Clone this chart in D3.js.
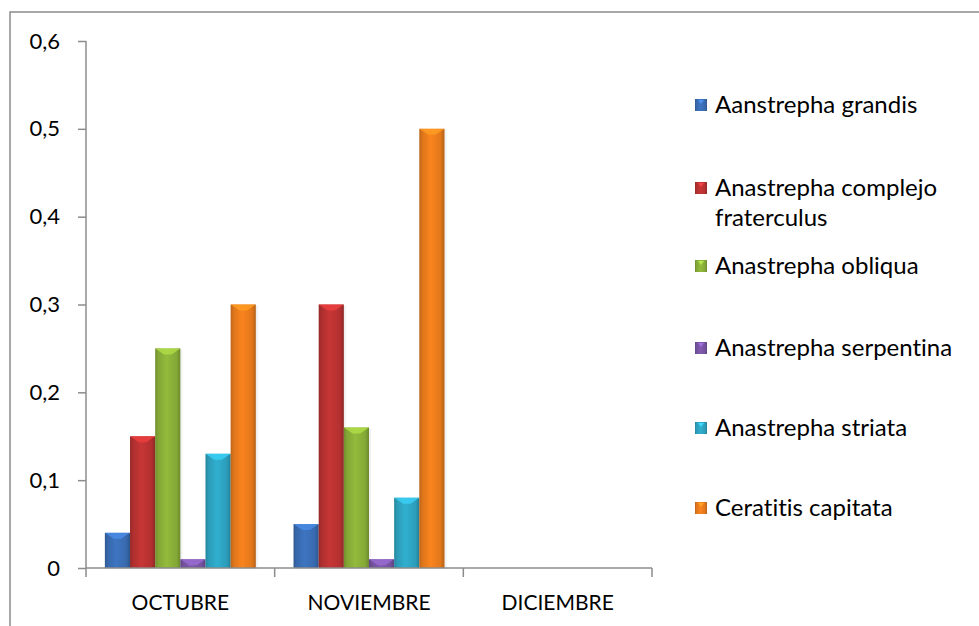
<!doctype html>
<html lang="es">
<head>
<meta charset="utf-8" />
<title>chart</title>
<script src="https://d3js.org/d3.v7.min.js"></script>
<style>
  body { margin: 0; background: #fff; }
  text { font-family: Lato, "Open Sans", sans-serif; fill: #000; font-variant-ligatures: none; }
</style>
</head>
<body>
<div id="svg_div"></div>
<script>
// data
var months = ["OCTUBRE", "NOVIEMBRE", "DICIEMBRE"];
var species = ["Aanstrepha grandis", "Anastrepha complejo fraterculus", "Anastrepha obliqua",
               "Anastrepha serpentina", "Anastrepha striata", "Ceratitis capitata"];
var grandis     = [0.04, 0.05, 0];
var fraterculus = [0.15, 0.30, 0];
var obliqua     = [0.25, 0.16, 0];
var serpentina  = [0.01, 0.01, 0];
var striata     = [0.13, 0.08, 0];
var capitata    = [0.30, 0.50, 0];
var yTicks = [0, 0.1, 0.2, 0.3, 0.4, 0.5, 0.6];

var series = [grandis, fraterculus, obliqua, serpentina, striata, capitata];
var colours = ["#3a6db4", "#b93232", "#89ae38", "#7855a4", "#2ea3c1", "#e97b1c"];

var width = 979, height = 626;
var plotLeft = 86, plotRight = 652, plotTop = 41, plotBottom = 568;

var svg = d3.select("#svg_div").append("svg")
  .attr("width", width)
  .attr("height", height);

var defs = svg.append("defs");
// horizontal gradient per colour to get the shaded column look
colours.forEach(function(c, i) {
  var g = defs.append("linearGradient").attr("id", "grad" + i)
    .attr("x1", 0).attr("x2", 1).attr("y1", 0).attr("y2", 0);
  var base = d3.color(c);
  g.append("stop").attr("offset", "0%").attr("stop-color", base.darker(0.6));
  g.append("stop").attr("offset", "12%").attr("stop-color", base.darker(0.15));
  g.append("stop").attr("offset", "45%").attr("stop-color", base.brighter(0.2));
  g.append("stop").attr("offset", "85%").attr("stop-color", base.darker(0.1));
  g.append("stop").attr("offset", "100%").attr("stop-color", base.darker(0.7));
});

// outer frame
svg.append("rect")
  .attr("x", 10).attr("y", 12)
  .attr("width", 990).attr("height", 640)
  .attr("fill", "none")
  .attr("stroke", "#8c8c8c")
  .attr("stroke-width", 1.5);

var yScale = d3.scaleLinear().domain([0, 0.6]).range([plotBottom, plotTop]);
var xScale = d3.scaleBand().domain(months).range([plotLeft, plotRight]).paddingInner(0).paddingOuter(0);
// gap width 150% => inner band holds 6 bars, padding 0.75 bar each side
var bw = xScale.bandwidth() / 7.5;
var xInner = d3.scaleBand().domain(d3.range(species.length))
  .range([bw * 0.75, xScale.bandwidth() - bw * 0.75]);

// bars
var groups = svg.selectAll("g.month")
  .data(months)
  .enter().append("g")
  .attr("class", "month")
  .attr("transform", function(d) { return "translate(" + xScale(d) + ",0)"; });

groups.each(function(m, mi) {
  var g = d3.select(this);
  series.forEach(function(s, si) {
    var v = s[mi];
    if (v <= 0) return;
    var x = xInner(si), w = xInner.bandwidth();
    var y = yScale(v), h = yScale(0) - yScale(v);
    // faint shadow
    g.append("rect")
      .attr("x", x + 1).attr("y", y + 1)
      .attr("width", w + 1).attr("height", h)
      .attr("fill", "#000").attr("opacity", 0.06);
    g.append("rect")
      .attr("x", x).attr("y", y)
      .attr("width", w).attr("height", h)
      .attr("fill", "url(#grad" + si + ")");
    // small bevel highlight at the top
    var bh = Math.min(6, h);
    g.append("path")
      .attr("d", "M" + x + "," + y + " L" + (x + w) + "," + y +
                 " L" + (x + w * 0.65) + "," + (y + bh) + " L" + (x + w * 0.35) + "," + (y + bh) + "Z")
      .attr("fill", d3.color(colours[si]).brighter(0.7))
      .attr("opacity", 0.8);
  });
});

// y axis
var yAxis = d3.axisLeft(yScale)
  .tickValues(yTicks)
  .tickSize(8)
  .tickPadding(18)
  .tickFormat(function(d) { return d === 0 ? "0" : d3.format(".1f")(d).replace(".", ","); });

var ya = svg.append("g")
  .attr("transform", "translate(" + plotLeft + ",0)")
  .call(yAxis);
ya.select(".domain").attr("stroke", "#8c8c8c").attr("stroke-width", 1.5)
  .attr("d", "M0," + plotTop + "V" + plotBottom);
ya.selectAll(".tick line").attr("stroke", "#8c8c8c").attr("stroke-width", 1.5);
ya.selectAll(".tick text")
  .attr("font-size", "22px")
  .style("font-family", "Lato, sans-serif")
  .attr("fill", "#000");

// x axis
var xAxis = d3.axisBottom(xScale).tickSize(0).tickPadding(27);
var xa = svg.append("g")
  .attr("transform", "translate(0," + plotBottom + ")")
  .call(xAxis);
xa.select(".domain").attr("stroke", "#8c8c8c").attr("stroke-width", 1.5)
  .attr("d", "M" + plotLeft + ",0H" + plotRight);
xa.selectAll(".tick text")
  .attr("font-size", "21px")
  .style("font-family", "Lato, sans-serif")
  .attr("fill", "#000");
// category separators
xa.selectAll("line.sep")
  .data(months.concat(["end"]))
  .enter().append("line")
  .attr("class", "sep")
  .attr("x1", function(d, i) { return plotLeft + i * xScale.step(); })
  .attr("x2", function(d, i) { return plotLeft + i * xScale.step(); })
  .attr("y1", 0).attr("y2", 9)
  .attr("stroke", "#8c8c8c").attr("stroke-width", 1.5);

// legend
var legendY = [105, 188, 266, 348, 428, 508];
var legend = svg.selectAll("g.leg")
  .data(species)
  .enter().append("g")
  .attr("class", "leg")
  .attr("transform", function(d, i) { return "translate(695," + legendY[i] + ")"; });

legend.append("rect")
  .attr("x", 0).attr("y", -6)
  .attr("width", 12).attr("height", 12)
  .attr("fill", function(d, i) { return "url(#grad" + i + ")"; });
legend.append("path")
  .attr("d", "M3,-5 L9,-5 L6,-1 Z")
  .attr("fill", function(d, i) { return d3.color(colours[i]).brighter(0.8); });

legend.append("text")
  .attr("x", 20)
  .attr("font-size", "24px")
  .attr("dy", "0.35em")
  .each(function(d) {
    var t = d3.select(this);
    if (d === "Anastrepha complejo fraterculus") {
      t.append("tspan").attr("x", 20).text("Anastrepha complejo");
      t.append("tspan").attr("x", 20).attr("dy", 30).text("fraterculus");
    } else {
      t.text(d);
    }
  });
</script>
</body>
</html>
